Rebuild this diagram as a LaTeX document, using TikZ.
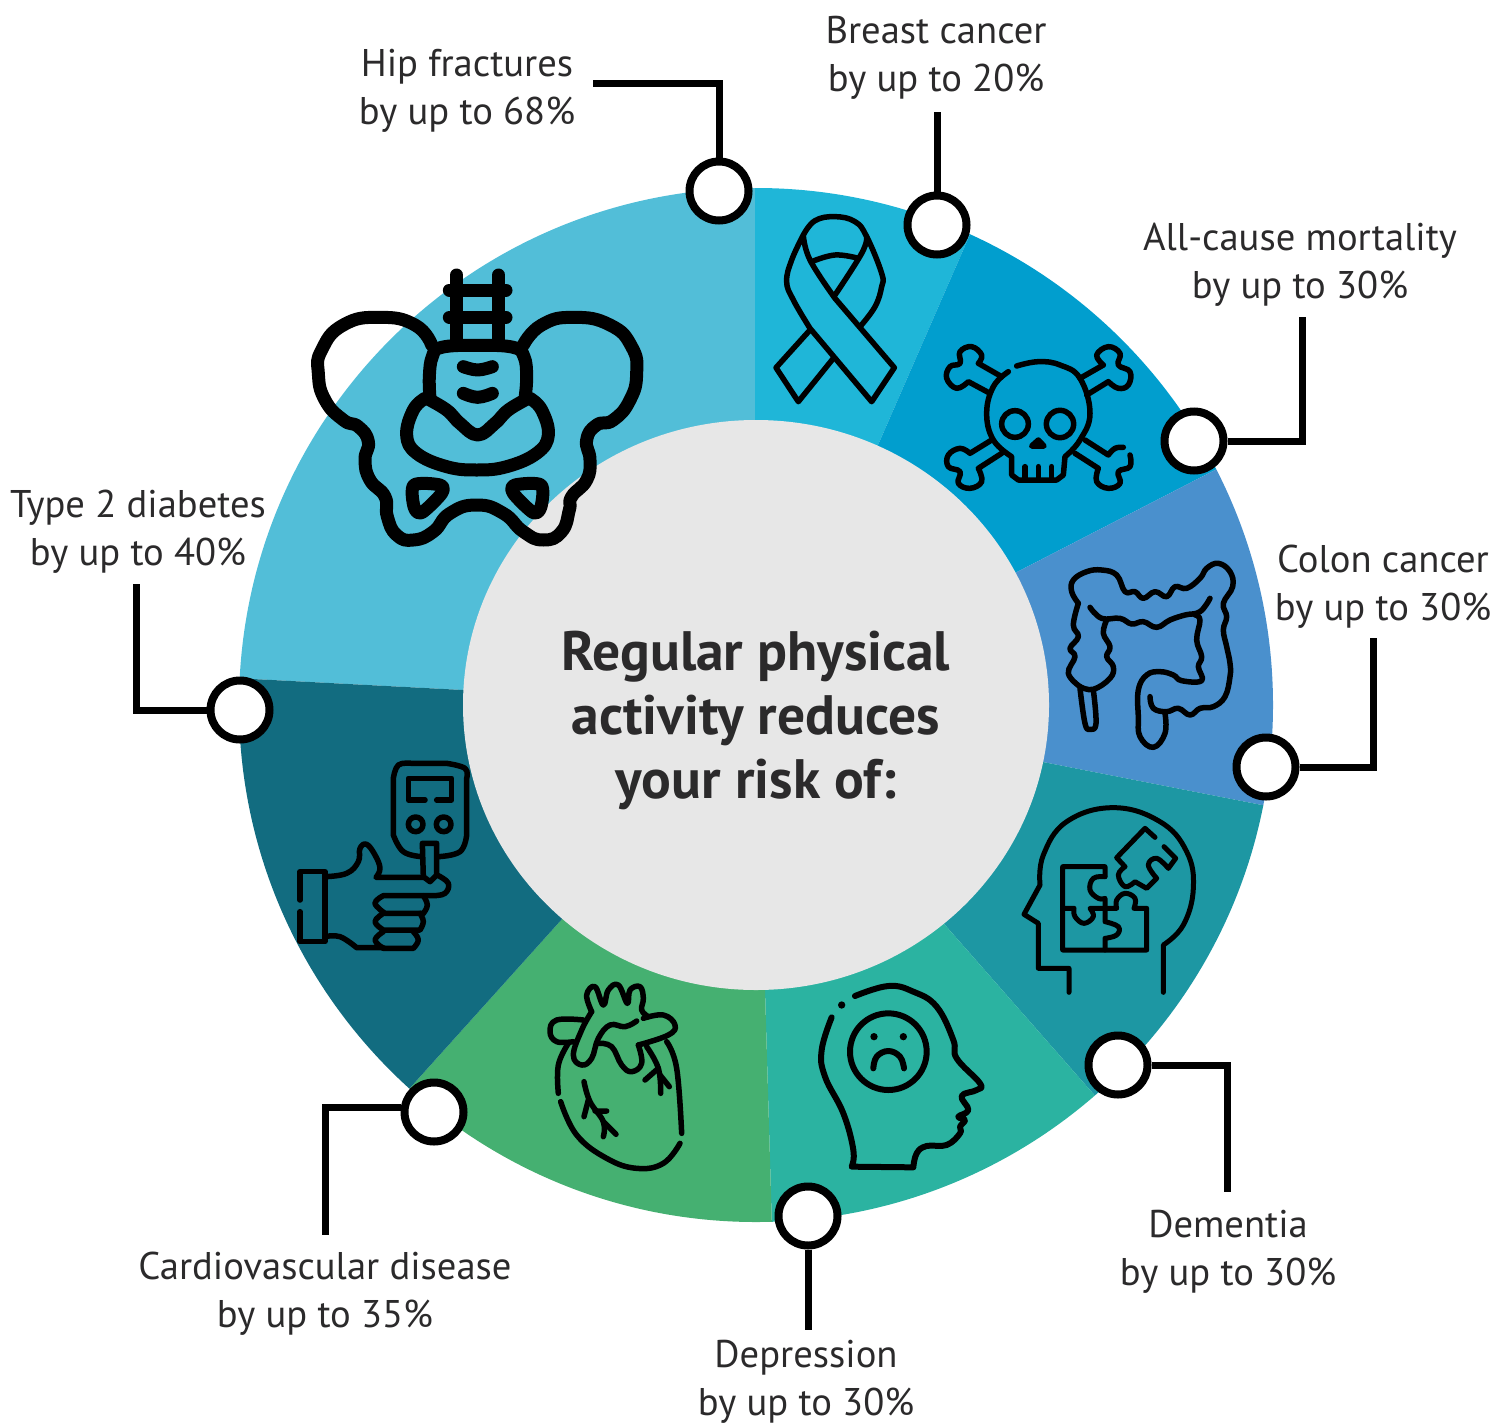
\documentclass[tikz,border=0pt]{standalone}
\usepackage{fontspec}
\setmainfont{PT Sans}
\definecolor{ink}{HTML}{2B2A2B}
\definecolor{chip}{HTML}{52BED8}
\definecolor{cribbon}{HTML}{1FB6D8}
\definecolor{cskull}{HTML}{019ECE}
\definecolor{ccolon}{HTML}{4A90CD}
\definecolor{cpuzzle}{HTML}{1D97A3}
\definecolor{cdep}{HTML}{2BB3A1}
\definecolor{cheart}{HTML}{45B071}
\definecolor{cdiab}{HTML}{126C80}
\definecolor{ccentre}{HTML}{E7E7E7}
\tikzset{
  lab/.style={text=ink,align=center,inner sep=0pt,font=\fontsize{38.6}{48}\selectfont},
  pin/.style={circle,draw=black,line width=8pt,fill=white,minimum size=59pt,inner sep=0pt},
  conn/.style={draw=black,line width=7pt},
  icon/.style={draw=black,line width=#1,line cap=round,line join=round},
  sm/.style={smooth,tension=0.7},
}
\begin{document}
\begin{tikzpicture}[x=1pt,y=-1pt]
\useasboundingbox (0,0) rectangle (1511,1426);
% ring
\begin{scope}
\clip (756,705) circle (517);
\fill[chip] (463,690)--(100,671)--(100,100)--(755,100)--(755,420)--(756,705)--cycle;
\fill[cribbon] (755,420)--(755,100)--(1009,145)--(878,445)--(756,705)--cycle;
\fill[cskull] (878,445)--(1009,145)--(1415,100)--(1415,367)--(1015,573)--(756,705)--cycle;
\fill[ccolon] (1015,573)--(1415,367)--(1481,848)--(1043,762)--(756,705)--cycle;
\fill[cpuzzle] (1043,762)--(1481,848)--(1307,1337)--(945,925)--(756,705)--cycle;
\fill[cdep] (945,925)--(1307,1337)--(777,1400)--(765,990)--(756,705)--cycle;
\fill[cheart] (765,990)--(777,1400)--(219,1300)--(563,918)--(756,705)--cycle;
\fill[cdiab] (563,918)--(219,1300)--(100,1300)--(100,671)--(463,690)--(756,705)--cycle;
\end{scope}
\fill[ccentre] (756,705) ellipse [x radius=293,y radius=285];
\node[inner sep=0pt,text=ink,align=center,font=\fontsize{55.5}{64}\selectfont\bfseries] (title) at (756,720) {Regular physical\\activity reduces\\your risk of:};
% pelvis
\begin{scope}[shift={(300,260)},x=1pt/3,y=-1pt/3]
\draw[icon=13pt] (470,45)--(470,250) (596,45)--(596,250) (448,90)--(618,90) (448,172)--(618,172);
\draw[icon=13pt] plot[smooth,tension=0.85] coordinates {(395,255)(345,195)(240,172)(130,195)(65,270)(55,340)(75,420)(130,480)(175,500)(205,545)(195,600)(210,660)(255,710)(262,770)(290,825)(340,840)(400,815)(450,760)(530,735)(610,760)(670,815)(730,840)(785,815)(808,750)(815,710)(860,660)(870,600)(860,540)(890,495)(940,480)(990,420)(1010,340)(995,260)(930,195)(820,172)(725,195)(670,255)};
\draw[icon=13pt] plot[smooth,tension=0.7] coordinates {(390,415)(388,350)(397,290)(425,262)(533,256)(640,262)(672,290)(680,350)(675,415)};
\draw[icon=13pt] plot[sm] coordinates {(380,415)(440,450)(480,490)(533,525)(585,490)(625,450)(685,415)};
\draw[icon=13pt] plot[sm] coordinates {(375,415)(340,450)(320,525)(350,580)(440,620)(530,630)(620,620)(710,580)(745,525)(725,450)(690,415)};
\draw[icon=13pt] plot[sm] coordinates {(490,320)(533,330)(577,320)};
\draw[icon=13pt] plot[sm] coordinates {(490,400)(533,412)(577,400)};
\draw[icon=13pt] plot[smooth cycle,tension=0.5] coordinates {(342,675)(420,675)(425,700)(365,758)(342,740)};
\draw[icon=13pt] plot[smooth cycle,tension=0.5] coordinates {(723,675)(645,675)(640,700)(700,758)(723,740)};
\end{scope}
% ribbon and skull
\begin{scope}[shift={(760,200)},x=1pt/3,y=-1pt/3]
\draw[icon=5.5pt] plot[sm] coordinates {(130,105)(95,180)(80,245)(100,300)(150,385)} -- (335,605) -- (403,503) -- (225,295) -- plot[sm] coordinates {(225,295)(150,180)(130,105)};
\draw[icon=5.5pt] plot[sm] coordinates {(130,105)(165,62)(225,50)(285,65)(320,110)(365,220)(365,260)(345,320)(300,380)};
\draw[icon=5.5pt] plot[sm] coordinates {(320,110)(305,160)(225,285)};
\draw[icon=5.5pt] plot[sm] coordinates {(155,185)(225,165)(295,175)};
\draw[icon=5.5pt] (150,390)--(48,503)--(115,605)--(220,475);
\draw[icon=5.5pt] plot[sm] coordinates {(770,498)(835,485)(900,495)(960,535)(990,640)(960,720)(915,770)} -- (910,825) -- (890,840) -- (775,840) -- (755,825) -- (755,770) -- plot[sm] coordinates {(755,770)(700,720)(680,640)(700,560)(745,515)};
\draw[icon=5.5pt] (765,672) circle (40) (900,672) circle (41);
\draw[icon=5.5pt] (815,738)--(835,720)--(852,738)--cycle;
\draw[icon=5.5pt] (795,800)--(795,835) (835,800)--(835,835) (875,800)--(875,835);
\draw[icon=5.5pt] (725,530)--(655,490) plot[sm] coordinates {(655,490)(665,465)(635,440)(600,455)(600,490)(570,500)(560,535)(590,565)(625,545)} -- (690,580);
\draw[icon=5.5pt] (960,535)--(1030,495) plot[sm] coordinates {(1030,495)(1010,465)(1045,440)(1080,460)(1075,495)(1110,515)(1105,555)(1075,565)(1045,545)} -- (980,585);
\draw[icon=5.5pt] (695,720)--(630,760) plot[sm] coordinates {(630,760)(600,745)(565,765)(565,800)(600,815)(595,850)(630,865)(665,845)(655,805)} -- (725,760);
\draw[icon=5.5pt] (975,720)--(1045,765) plot[sm] coordinates {(1045,765)(1065,745)(1090,742)};
\draw[icon=5.5pt] plot[sm] coordinates {(1110,765)(1110,800)(1075,815)(1080,850)(1045,865)(1010,845)(1015,805)} -- (945,760);
\end{scope}
% colon
\begin{scope}[shift={(1010,550)},x=1pt/3,y=-1pt/3]
\draw[icon=5.5pt] plot[sm] coordinates {(205,160)(185,125)(190,90)(230,65)(275,60)(320,75)(345,125)(375,125)(400,145)(435,125)(470,140)(495,110)(530,115)(570,85)(590,55)(625,40)(660,65)(668,110)(640,160)(650,200)(640,240)(650,290)(660,340)(660,380)(645,440)(610,470)(570,475)(540,495)(505,475)(470,485)(430,475)(420,440)};
\draw[icon=5.5pt] plot[sm] coordinates {(465,490)(465,550)(430,592)(390,560)(385,500)(385,420)(410,375)(450,365)(490,375)(515,392)(575,392)(565,350)(575,320)(560,270)(570,210)(555,195)};
\draw[icon=5.5pt] plot[sm] coordinates {(240,172)(275,205)(330,205)(365,222)(400,215)(440,232)(480,210)(525,195)(570,185)(600,145)};
\draw[icon=5.5pt] plot[sm] coordinates {(205,160)(190,225)(205,260)(180,295)(195,320)(175,370)(210,410)};
\draw[icon=5.5pt] plot[sm] coordinates {(210,415)(225,520)(240,538)(258,520)(250,420)};
\draw[icon=5.5pt] plot[sm] coordinates {(210,410)(250,418)(300,385)(310,350)(290,320)(300,290)(280,250)(290,210)};
\end{scope}
% puzzle head
\begin{scope}[shift={(1010,795)},x=1pt/3,y=-1pt/3]
\draw[icon=5pt] (177,592)--(177,520)--(85,520)--(85,385)--(42,358)--(90,270)-- plot[sm] coordinates {(90,270)(100,180)(170,80)(310,38)(450,80)(530,170)(550,280)(520,390)(460,450)} -- (460,592);
\draw[icon=5pt] (285,245)--(285,215)--(158,215)--(158,465)--(410,465)--(410,340)--(372,340) plot[sm] coordinates {(372,340)(375,310)(345,295)(320,315)(320,340)} -- (285,340);
\draw[icon=5pt] (158,340)--(192,340) plot[sm] coordinates {(192,340)(195,365)(222,385)(250,365)(240,340)} -- (285,340);
\draw[icon=5pt] plot[sm] coordinates {(285,245)(250,250)(240,285)(265,310)(285,310)} -- (285,380) plot[sm] coordinates {(285,380)(325,395)(320,420)(285,430)} -- (285,465);
\draw[icon=5pt] (435,127)--(405,100)--(320,188)--(345,215) plot[sm] coordinates {(345,215)(325,240)(345,275)(375,260)} -- (410,280)--(440,250) plot[sm] coordinates {(440,250)(415,210)(440,190)(475,220)} -- (497,190)--(462,155);
\end{scope}
% depression head
\begin{scope}[shift={(810,990)},x=1pt/3,y=-1pt/3]
\fill (95,45) circle (11);
\draw[icon=6pt] plot[sm] coordinates {(65,82)(35,180)(45,260)(100,370)(130,480)(125,530)} -- (310,532) -- plot[sm] coordinates {(310,532)(320,490)(350,468)(410,465)(450,430)(450,410)(465,390)(445,380)(475,360)(455,318)(500,300)(510,280)(440,205)(430,150)(380,50)(310,5)(235,-12)(135,18)};
\draw[icon=6pt] (235,185) circle (115);
\fill (192,140) circle (11) (280,140) circle (11);
\draw[icon=6pt] plot[sm] coordinates {(190,235)(200,200)(235,183)(270,200)(282,235)};
\end{scope}
% heart
\begin{scope}[shift={(540,975)},x=1pt/3,y=-1pt/3]
\draw[icon=5.5pt] plot[sm] coordinates {(155,110)(140,60)(165,35)(190,90)(205,45)(235,30)(262,85)(270,45)(300,35)(310,70)(305,105)(325,125)};
\draw[icon=5.5pt] plot[sm] coordinates {(155,110)(125,165)(100,240)(125,270)(155,250)(175,190)(210,150)(255,155)(290,138)};
\draw[icon=5.5pt] plot[sm] coordinates {(130,135)(50,135)(30,170)(50,200)(100,200)};
\draw[icon=5.5pt] plot[sm] coordinates {(310,130)(370,120)(405,150)(385,180)(295,210)};
\draw[icon=5.5pt] plot[sm] coordinates {(175,205)(215,215)(245,270)(275,290)(305,265)(295,210)};
\draw[icon=5.5pt] plot[sm] coordinates {(85,205)(55,270)(55,355)};
\draw[icon=5.5pt] plot[sm] coordinates {(62,380)(110,480)(200,550)(290,580)(370,565)(420,505)};
\draw[icon=5.5pt] plot[sm] coordinates {(425,475)(410,280)(380,200)};
\draw[icon=5.5pt] plot[sm] coordinates {(320,215)(355,280)(362,355)};
\draw[icon=5.5pt] (315,315)--(355,280) (360,300)--(388,335);
\draw[icon=5.5pt] plot[sm] coordinates {(132,320)(150,380)(190,440)(190,485)};
\draw[icon=5.5pt] (145,375)--(132,425) (165,408)--(200,408) (190,440)--(228,478);
\end{scope}
% hand and meter
\begin{scope}[shift={(290,755)},x=1pt/3,y=-1pt/3]
\draw[icon=5.5pt] plot[sm] coordinates {(395,305)(340,290)(310,240)} -- (310,70) -- plot[sm] coordinates {(310,70)(325,30)(365,25)} -- (470,25) -- plot[sm] coordinates {(470,25)(525,40)(530,70)} -- (530,240) -- plot[sm] coordinates {(530,240)(510,290)(445,305)};
\draw[icon=5.5pt] (405,135)--(355,135)--(355,70)--(485,70)--(485,135)--(440,135);
\draw[icon=5.5pt] (377,208) circle (22) (461,208) circle (22);
\draw[icon=5.5pt] (397,265)--(440,265)--(440,360)--(420,380)--(400,365)--cycle;
\draw[icon=5.5pt] (30,435)--(30,350)--(105,350)--(105,560)--(30,560)--(30,470);
\draw[icon=5.5pt] plot[sm] coordinates {(105,365)(170,355)(205,320)(210,280)(230,268)(255,300)(270,340)(258,367)} -- (400,367);
\draw[icon=5.5pt] plot[sm] coordinates {(445,362)(475,385)(465,415)(430,422)} -- (280,422) -- plot[sm] coordinates {(280,422)(255,445)(285,475)} -- (400,475);
\draw[icon=5.5pt] plot[sm] coordinates {(400,422)(412,450)(400,475)};
\draw[icon=5.5pt] plot[sm] coordinates {(280,475)(255,500)(280,525)} -- (390,525) -- plot[sm] coordinates {(390,525)(400,500)(390,475)};
\draw[icon=5.5pt] plot[sm] coordinates {(280,530)(255,555)(280,580)} -- (370,580) -- plot[sm] coordinates {(370,580)(385,555)(370,530)};
\draw[icon=5.5pt] plot[sm] coordinates {(105,545)(150,545)(200,578)} -- (280,578);
\end{scope}
% labels
\node[lab] (lhip) at (467,91) {Hip fractures\\by up to 68\%};
\node[lab] (lbreast) at (936,58) {Breast cancer\\by up to 20\%};
\node[lab] (lall) at (1300,265) {All-cause mortality\\by up to 30\%};
\node[lab] (lcolon) at (1383,587) {Colon cancer\\by up to 30\%};
\node[lab] (ldem) at (1228,1252) {Dementia\\by up to 30\%};
\node[lab] (ldep) at (806,1382) {Depression\\by up to 30\%};
\node[lab] (lcv) at (325,1294) {Cardiovascular disease\\by up to 35\%};
\node[lab] (ldia) at (138,532) {Type 2 diabetes\\by up to 40\%};
% pins
\node[pin] (phip) at (719,191) {};
\node[pin] (pbreast) at (937,225) {};
\node[pin] (pall) at (1194,441) {};
\node[pin] (pcolon) at (1266,767) {};
\node[pin] (pdem) at (1118,1065) {};
\node[pin] (pdep) at (808,1216) {};
\node[pin] (pcv) at (434,1112) {};
\node[pin] (pdia) at (240,710) {};
% free ends
\coordinate (ehip) at (593,84);
\coordinate (ebreast) at (937,112);
\coordinate (eall) at (1302,317);
\coordinate (ecolon) at (1373,638);
\coordinate (edem) at (1227,1192);
\coordinate (edep) at (808,1330);
\coordinate (ecv) at (325,1235);
\coordinate (edia) at (136,584);
% connectors
\draw[conn] (phip.north) |- (ehip);
\draw[conn] (pbreast.north) -- (ebreast);
\draw[conn] (pall.east) -| (eall);
\draw[conn] (pcolon.east) -| (ecolon);
\draw[conn] (pdem.east) -| (edem);
\draw[conn] (pdep.south) -- (edep);
\draw[conn] (pcv.172) -| (ecv);
\draw[conn] (pdia.west) -| (edia);
\end{tikzpicture}
\end{document}
